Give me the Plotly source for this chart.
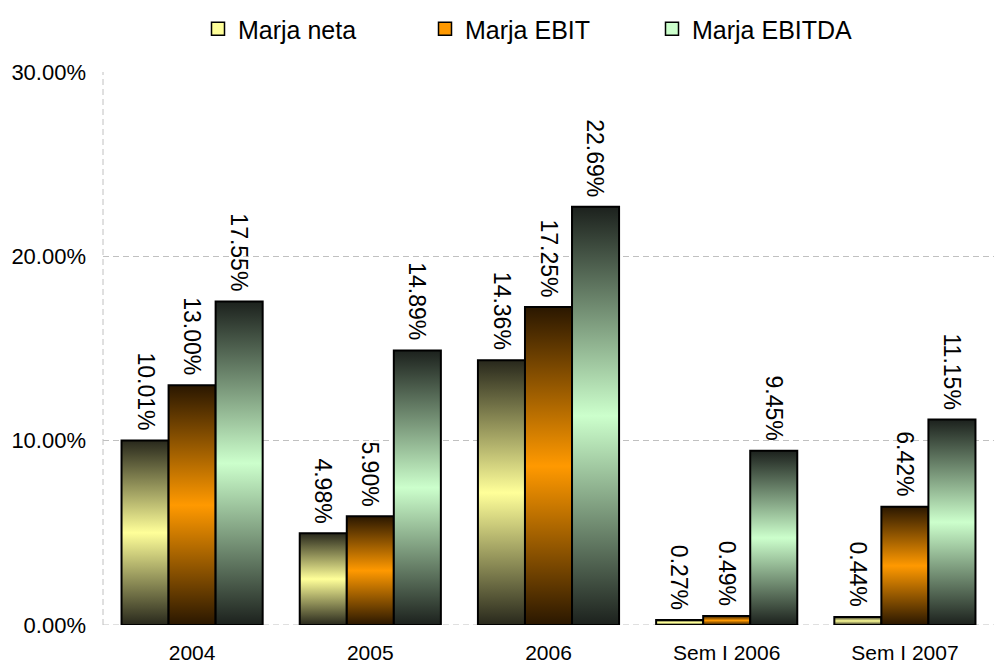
import plotly.graph_objects as go

# Margins by period (percent)
categories = ["2004", "2005", "2006", "Sem I 2006", "Sem I 2007"]
series_names = ["Marja neta", "Marja EBIT", "Marja EBITDA"]
marja_neta = [10.01, 4.98, 14.36, 0.27, 0.44]
marja_ebit = [13.00, 5.90, 17.25, 0.49, 6.42]
marja_ebitda = [17.55, 14.89, 22.69, 9.45, 11.15]
y_ticks = [0, 10, 20, 30]

series_values = [marja_neta, marja_ebit, marja_ebitda]
# (dark edge, light centre) for the vertical bar gradients
palettes = [
    ("#28281c", "#ffff99"),
    ("#2a1700", "#ff9900"),
    ("#1c211d", "#ccffcc"),
]

FONT = "Liberation Sans, Arial, sans-serif"
bar_w = 0.264
fig = go.Figure()

for k, (name, vals, (dark, light)) in enumerate(zip(series_names, series_values, palettes)):
    offset = (k - 1) * bar_w
    for i, v in enumerate(vals):
        cx = i + offset
        x0, x1 = cx - bar_w / 2, cx + bar_w / 2
        fig.add_trace(go.Scatter(
            x=[x0, x1, x1, x0, x0],
            y=[0, 0, v, v, 0],
            mode="lines",
            fill="toself",
            fillgradient=dict(
                type="vertical",
                colorscale=[[0, dark], [0.5, light], [1, dark]],
                start=0,
                stop=v,
            ),
            line=dict(color="black", width=2),
            showlegend=False,
            hoverinfo="skip",
        ))
        fig.add_annotation(
            x=cx, y=v, xref="x", yref="y",
            text=f"{v:.2f}%",
            textangle=90,
            showarrow=False,
            xanchor="center", yanchor="bottom",
            yshift=8,
            font=dict(family=FONT, size=23, color="black"),
        )
    # legend entry
    fig.add_trace(go.Scatter(
        x=[None], y=[None], mode="markers", name=name,
        marker=dict(symbol="square", size=13, color=light,
                    line=dict(color="black", width=1.5)),
    ))

# dashed left border and baseline of the plot area
fig.add_shape(type="line", xref="paper", yref="paper", x0=0, x1=0, y0=0, y1=1,
              line=dict(color="#c0c0c0", width=1, dash="6px,4px"), layer="below")
fig.add_shape(type="line", xref="paper", yref="y", x0=0, x1=1, y0=0, y1=0,
              line=dict(color="#c0c0c0", width=1, dash="6px,4px"), layer="below")

fig.update_layout(
    width=994, height=665,
    margin=dict(l=103, r=0, t=72, b=40, autoexpand=False),
    paper_bgcolor="white", plot_bgcolor="white",
    font=dict(family=FONT, color="black"),
    showlegend=True,
    legend=dict(
        orientation="h",
        xref="container", yref="container",
        x=198 / 994, y=1 - 6 / 665,
        xanchor="left", yanchor="top",
        entrywidth=182, entrywidthmode="pixels",
        itemwidth=30,
        font=dict(size=25),
    ),
    xaxis=dict(
        range=[-0.5, 4.5],
        tickmode="array", tickvals=list(range(len(categories))), ticktext=categories,
        showgrid=False, zeroline=False, showline=False,
        ticks="", ticklabelstandoff=13,
        tickfont=dict(size=21),
        automargin=False,
        fixedrange=True,
    ),
    yaxis=dict(
        range=[0, 30],
        tickmode="array", tickvals=y_ticks,
        ticktext=[f"{t:.2f}%" for t in y_ticks],
        showgrid=True, gridcolor="#c0c0c0", gridwidth=1, griddash="6px,4px",
        zeroline=False, showline=False,
        ticks="", ticklabelstandoff=16,
        tickfont=dict(size=22),
        automargin=False,
        fixedrange=True,
    ),
)

fig.write_html("out.html")
